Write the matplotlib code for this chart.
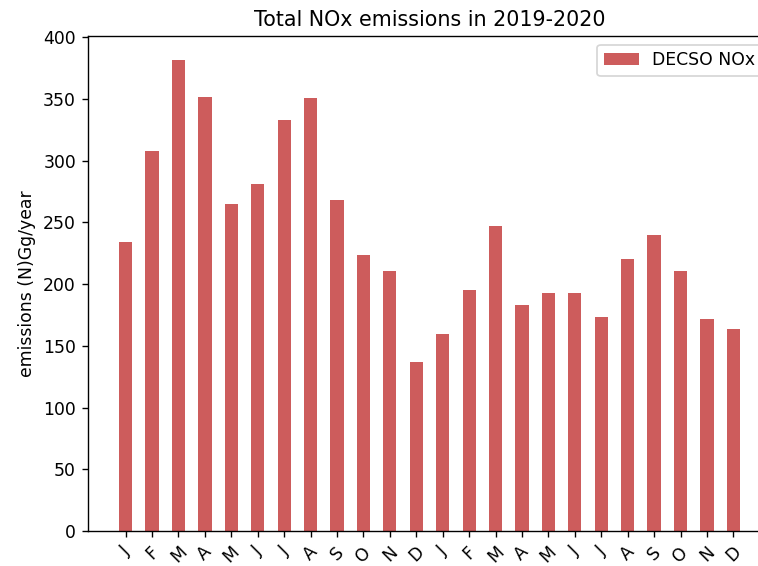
import matplotlib
matplotlib.use("Agg")
import matplotlib.pyplot as plt
import numpy as np

months = ["J", "F", "M", "A", "M", "J", "J", "A", "S", "O", "N", "D"] * 2
values = [234, 308, 382, 352, 265, 281, 333, 351, 268, 224, 211, 137,
          160, 195, 247, 183, 193, 193, 173, 220, 240, 211, 172, 164]

DPI = 124
fig = plt.figure(figsize=(758/DPI, 566/DPI), dpi=DPI)
ax = fig.add_axes([88/758, 35/566, 683/758, 495/566])
x = np.arange(len(values))
ax.bar(x, values, width=0.5, color="indianred", label="DECSO NOx")
ax.set_xticks(x)
ax.set_xticklabels(months, rotation=45)
ax.set_ylabel("emissions (N)Gg/year")
ax.set_title("Total NOx emissions in 2019-2020")
ax.legend(loc="upper right")
fig.savefig("out.png", dpi=DPI)
